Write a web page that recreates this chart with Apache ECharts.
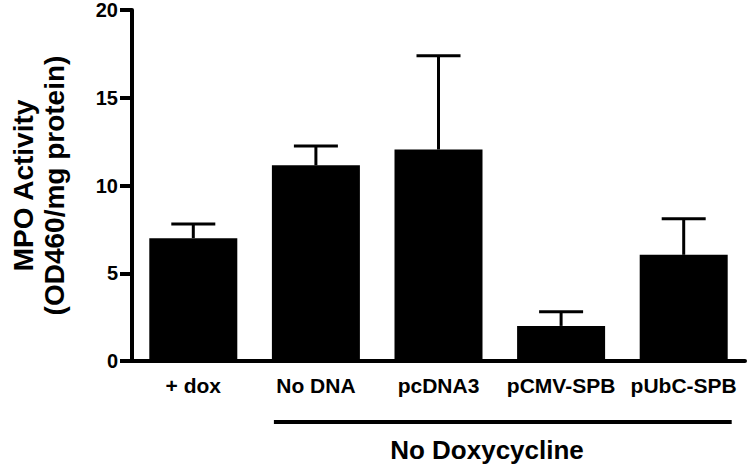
<!DOCTYPE html>
<html>
<head>
<meta charset="utf-8">
<script src="https://cdn.jsdelivr.net/npm/echarts@6/dist/echarts.min.js"></script>
<style>
  html, body { margin: 0; padding: 0; background: #fff; }
  #chart { width: 748px; height: 468px; }
</style>
</head>
<body>
<div id="chart"></div>
<script>
var categories = ['+ dox', 'No DNA', 'pcDNA3', 'pCMV-SPB', 'pUbC-SPB'];
var means = [7.0, 11.15, 12.05, 2.0, 6.05];
var errors = [0.8, 1.1, 5.35, 0.8, 2.05];
var yTicks = [0, 5, 10, 15, 20];
var groupLabel = 'No Doxycycline';

(function() {
  var font = '"Liberation Sans", Arial, sans-serif';
  var ink = '#000';

  var errData = means.map(function(m, i) { return [i, m, m + errors[i]]; });

  var chart = echarts.init(document.getElementById('chart'), null, { renderer: 'svg' });
  chart.setOption({
    animation: false,
    backgroundColor: '#fff',
    grid: { left: 113, right: 3, top: 10, bottom: 107 },
    xAxis: {
      type: 'category',
      data: categories,
      axisLine: { lineStyle: { color: ink, width: 4 } },
      axisTick: { alignWithLabel: true, length: 10, lineStyle: { color: ink, width: 4 } },
      axisLabel: { interval: 0, color: ink, fontSize: 21, fontWeight: 'bold', fontFamily: font, margin: 14 }
    },
    yAxis: {
      type: 'value',
      min: yTicks[0],
      max: yTicks[yTicks.length - 1],
      interval: yTicks[1] - yTicks[0],
      name: 'MPO Activity\n(OD460/mg protein)',
      nameLocation: 'middle',
      nameGap: 62,
      nameRotate: 90,
      nameTextStyle: { color: ink, fontSize: 28, fontWeight: 'bold', fontFamily: font, lineHeight: 31 },
      axisLine: { show: true, lineStyle: { color: ink, width: 4 } },
      axisTick: { show: true, length: 12, lineStyle: { color: ink, width: 4 } },
      axisLabel: { color: ink, fontSize: 20, fontWeight: 'bold', fontFamily: font, margin: 14 },
      splitLine: { show: false }
    },
    series: [
      {
        type: 'bar',
        data: means,
        barWidth: 88,
        itemStyle: { color: ink }
      },
      {
        type: 'custom',
        data: errData,
        z: 3,
        renderItem: function(params, api) {
          var lo = api.coord([api.value(0), api.value(1)]);
          var hi = api.coord([api.value(0), api.value(2)]);
          var half = 22;
          var st = { stroke: ink, lineWidth: 3 };
          return {
            type: 'group',
            children: [
              { type: 'line', shape: { x1: lo[0], y1: lo[1], x2: hi[0], y2: hi[1] }, style: st },
              { type: 'line', shape: { x1: hi[0] - half, y1: hi[1], x2: hi[0] + half, y2: hi[1] }, style: st }
            ]
          };
        }
      }
    ]
  });

  // bracket under the no-dox groups
  var p0 = chart.convertToPixel({ gridIndex: 0 }, [1, 0]);
  var p1 = chart.convertToPixel({ gridIndex: 0 }, [categories.length - 1, 0]);
  var x0 = p0[0] - 42, x1 = p1[0] + 48;
  chart.setOption({
    graphic: [
      { type: 'line', shape: { x1: x0, y1: 422, x2: x1, y2: 422 }, style: { stroke: ink, lineWidth: 4 } },
      { type: 'text', x: 487, y: 450,
        style: { text: groupLabel, fill: ink, fontSize: 26, fontWeight: 'bold', fontFamily: font, align: 'center', verticalAlign: 'middle' } }
    ]
  });
  window.addEventListener('resize', function() { chart.resize(); });
})();
</script>
</body>
</html>
